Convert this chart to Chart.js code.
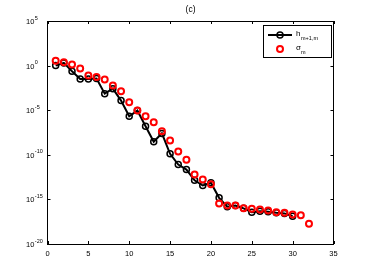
<!DOCTYPE html>
<html>
<head>
<meta charset="utf-8">
<script src="https://cdn.jsdelivr.net/npm/chart.js@4.4.0/dist/chart.umd.min.js"></script>
<style>
  body { margin: 0; background: #fff; }
  canvas { display: block; }
</style>
</head>
<body>
<canvas id="chart" width="368" height="276"></canvas>
<script>
// values
const hIndex = [1,2,3,4,5,6,7,8,9,10,11,12,13,14,15,16,17,18,19,20,21,22,23,24,25,26,27,28,29,30];
const hValues = [1.0, 2.0, 2.3e-1, 3.2e-2, 3.2e-2, 3.5e-2, 7.2e-4, 2.6e-3, 1.2e-4, 2.1e-6,
  9.1e-6, 1.6e-7, 2.9e-9, 2.5e-8, 1.3e-10, 8.1e-12, 2.2e-12, 1.4e-13, 3.6e-14, 7.2e-14,
  1.5e-15, 1.5e-16, 2.1e-16, 1.0e-16, 3.7e-17, 4.8e-17, 4.2e-17, 3.2e-17, 2.7e-17, 1.3e-17];

const sigmaIndex = [1,2,3,4,5,6,7,8,9,10,11,12,13,14,15,16,17,18,19,20,21,22,23,24,25,26,27,28,29,30,31,32];
const sigmaValues = [3.6, 2.3, 1.3, 4.6e-1, 7.6e-2, 5.4e-2, 2.7e-2, 5.8e-3, 1.3e-3, 7.8e-5,
  9.1e-6, 2.1e-6, 4.5e-7, 4.4e-8, 4.0e-9, 2.3e-10, 2.8e-11, 6.3e-13, 1.7e-13, 5.1e-14,
  3.5e-16, 2.1e-16, 2.1e-16, 1.0e-16, 8.9e-17, 7.4e-17, 5.8e-17, 3.7e-17, 3.2e-17, 2.0e-17,
  1.7e-17, 1.9e-18];

const xTicks = [0, 5, 10, 15, 20, 25, 30, 35];
const yExponents = [5, 0, -5, -10, -15, -20];
const titleText = "(c)";

const FONT = "Liberation Sans, Arial, Helvetica, sans-serif";

// matlab-style box, inner ticks, 10^n labels, title and legend
const matlabFrame = {
  id: "matlabFrame",
  afterDraw(chart) {
    const ctx = chart.ctx;
    const a = chart.chartArea;
    const xs = chart.scales.x, ys = chart.scales.y;
    ctx.save();
    ctx.strokeStyle = "#000";
    ctx.lineWidth = 1;
    ctx.strokeRect(a.left, a.top + 0.5, a.right - a.left, a.bottom - a.top);

    ctx.beginPath();
    xTicks.forEach(v => {
      const px = Math.round(xs.getPixelForValue(v)) + 0.5;
      ctx.moveTo(px, a.bottom); ctx.lineTo(px, a.bottom - 3);
      ctx.moveTo(px, a.top); ctx.lineTo(px, a.top + 3);
    });
    yExponents.forEach(e => {
      const py = Math.round(ys.getPixelForValue(Math.pow(10, e))) + 0.5;
      ctx.moveTo(a.left, py); ctx.lineTo(a.left + 3, py);
      ctx.moveTo(a.right, py); ctx.lineTo(a.right - 3, py);
    });
    ctx.stroke();

    ctx.fillStyle = "#000";
    ctx.textBaseline = "middle";
    ctx.textAlign = "left";
    yExponents.forEach(e => {
      const py = ys.getPixelForValue(Math.pow(10, e));
      ctx.font = "7.5px " + FONT;
      ctx.fillText("10", 26, py + 1);
      const w = ctx.measureText("10").width;
      ctx.font = "5.5px " + FONT;
      ctx.fillText(e < 0 ? "-" + (-e) : String(e), 26 + w + 0.5, py - 3);
    });

    ctx.textAlign = "center";
    ctx.font = "8.5px " + FONT;
    ctx.fillText(titleText, (a.left + a.right) / 2, 10);

    // legend
    ctx.fillStyle = "#fff";
    ctx.fillRect(263.5, 25.5, 68, 32);
    ctx.strokeRect(263.5, 25.5, 68, 32);
    ctx.lineWidth = 2;
    ctx.beginPath();
    ctx.moveTo(268, 35); ctx.lineTo(292, 35);
    ctx.stroke();
    ctx.lineWidth = 1.5;
    ctx.beginPath();
    ctx.arc(280, 35, 3, 0, Math.PI * 2);
    ctx.stroke();
    ctx.strokeStyle = "#ff0000";
    ctx.lineWidth = 2;
    ctx.beginPath();
    ctx.arc(280, 49, 3, 0, Math.PI * 2);
    ctx.stroke();

    ctx.fillStyle = "#000";
    ctx.textAlign = "left";
    ctx.font = "8px " + FONT;
    ctx.fillText("h", 296, 34);
    ctx.fillText("σ", 296, 48);
    ctx.font = "5.5px " + FONT;
    ctx.fillText("m+1,m", 301, 38);
    ctx.fillText("m", 301, 52);
    ctx.restore();
  }
};

new Chart(document.getElementById("chart"), {
  type: "scatter",
  data: {
    datasets: [
      {
        label: "h_{m+1,m}",
        data: hIndex.map((x, i) => ({ x: x, y: hValues[i] })),
        showLine: true,
        borderColor: "#000",
        borderWidth: 2,
        pointRadius: 3,
        pointBorderWidth: 1.5,
        pointBorderColor: "#000",
        pointBackgroundColor: "rgba(0,0,0,0)",
        order: 2
      },
      {
        label: "sigma_m",
        data: sigmaIndex.map((x, i) => ({ x: x, y: sigmaValues[i] })),
        showLine: false,
        pointRadius: 3,
        pointBorderWidth: 2,
        pointBorderColor: "#ff0000",
        pointBackgroundColor: "rgba(0,0,0,0)",
        order: 1
      }
    ]
  },
  options: {
    responsive: false,
    devicePixelRatio: 1,
    animation: false,
    layout: { padding: { top: 21, right: 34.5, left: 0, bottom: 0 } },
    plugins: { legend: { display: false }, tooltip: { enabled: false } },
    scales: {
      x: {
        type: "linear",
        min: 0,
        max: 35,
        afterBuildTicks: s => { s.ticks = xTicks.map(v => ({ value: v })); },
        afterFit: s => { s.height = 32; },
        grid: { display: false, drawTicks: false },
        border: { display: false },
        ticks: { color: "#000", font: { family: FONT, size: 7.5 }, padding: 5, maxRotation: 0 }
      },
      y: {
        type: "logarithmic",
        min: 1e-20,
        max: 1e5,
        afterBuildTicks: s => { s.ticks = yExponents.map(e => ({ value: Math.pow(10, e) })); },
        afterFit: s => { s.width = 47.5; },
        grid: { display: false },
        border: { display: false },
        ticks: { display: false }
      }
    }
  },
  plugins: [matlabFrame]
});
</script>
</body>
</html>
